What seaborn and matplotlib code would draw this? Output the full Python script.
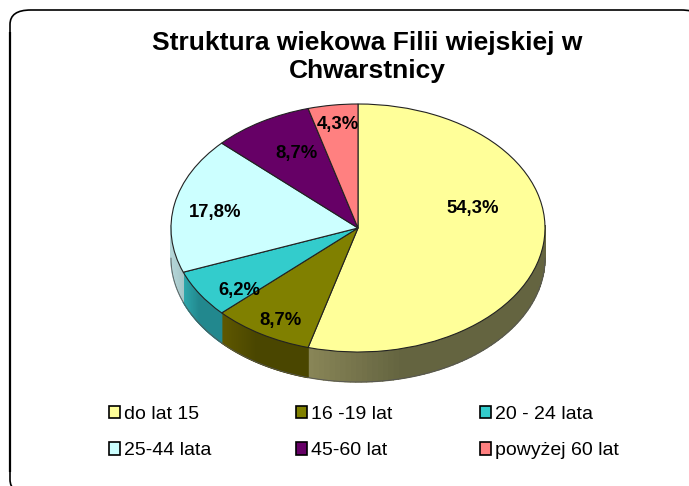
import numpy as np
import matplotlib
matplotlib.use("Agg")
import matplotlib.pyplot as plt
from matplotlib.patches import FancyBboxPatch, Patch
from matplotlib.colors import to_rgb
import seaborn as sns

categories = ["do lat 15", "16 -19 lat", "20 - 24 lata", "25-44 lata", "45-60 lat", "powyżej 60 lat"]
shares = [54.3, 8.7, 6.2, 17.8, 8.7, 4.3]
labels = ["54,3%", "8,7%", "6,2%", "17,8%", "8,7%", "4,3%"]
colors = ["#FFFF99", "#808000", "#33CCCC", "#CCFFFF", "#660066", "#FF8080"]
side_left = ["#8A8758", "#5F5800", "#2DA8AC", "#B4D6D8", "#4A004A", "#B05050"]
side_right = ["#646440", "#4A4600", "#22888E", "#9CBCBE", "#3A003A", "#904040"]
title = "Struktura wiekowa Filii wiejskiej w\nChwarstnicy"

sns.set_theme(style="white")
plt.rcParams["font.family"] = ["Liberation Sans", "DejaVu Sans"]

W, H = 689, 486
fig = plt.figure(figsize=(W / 100, H / 100), dpi=100, facecolor="white")

# rounded frame that runs off the right and bottom edges of the image
frame = FancyBboxPatch((10 / W, (H - 494) / H), 692 / W, 484 / H,
                       boxstyle="round,pad=0,rounding_size=0.03", mutation_aspect=W / H * 0.7,
                       transform=fig.transFigure, fc="white", ec="black", lw=1.2, clip_on=False,
                       zorder=-1)
fig.add_artist(frame)
fig.add_artist(plt.Line2D([10 / W, 10 / W], [1 - 32 / H, 1 - 472 / H], color="black", lw=1.6,
                          zorder=-1, solid_capstyle="butt"))

rx, ry, cx, cy, depth = 187, 124, 358, 228, 30
ax = fig.add_axes([(cx - rx) / W, (H - cy - ry - depth) / H, 2 * rx / W, (2 * ry + depth) / H])
ax.patch.set_alpha(0)
d = depth / ry

# side wall, walking the visible front half of the rim
start = 90.0
total = sum(shares)
for value, cl, cr in zip(shares, side_left, side_right):
    sweep = value / total * 360
    a = np.radians(np.linspace(start, start - sweep, 120))
    lo, hi = np.cos(a).min(), np.cos(a).max()
    for a0, a1 in zip(a[:-1], a[1:]):
        if np.sin(a0) > 0.02 and np.sin(a1) > 0.02:
            continue
        xs = [np.cos(a0), np.cos(a1), np.cos(a1), np.cos(a0)]
        ys = [np.sin(a0), np.sin(a1), np.sin(a1) - d, np.sin(a0) - d]
        t = (np.cos(a0) - lo) / max(hi - lo, 1e-6)
        t = min(t * 2.5, 1.0)
        col = (1 - t) * np.array(to_rgb(cl)) + t * np.array(to_rgb(cr))
        ax.fill(xs, ys, facecolor=col, edgecolor=col, lw=1.0, zorder=1, clip_on=False)
    start -= sweep

wedges, _ = ax.pie(shares, colors=colors, startangle=90, counterclock=False, radius=1,
                   wedgeprops=dict(edgecolor="#222222", linewidth=0.8))
for w in wedges:
    w.set_zorder(3)
ax.set_aspect("auto")
ax.set_xlim(-1, 1)
ax.set_ylim(-1 - d, 1)
ax.axis("off")

th = np.radians(np.linspace(180, 360, 200))
ax.plot(np.cos(th), np.sin(th) - d, color="#555555", lw=0.6, zorder=2, clip_on=False)

# percentage labels, placed in image pixels
label_px = [(473, 208.5), (281, 320.5), (239, 291), (215, 213), (297, 153), (338, 125)]
for text, (px, py) in zip(labels, label_px):
    fig.text(px / W, 1 - py / H, text, ha="center", va="center",
             fontsize=13.3, fontweight="bold", color="black", zorder=5)

fig.text(367 / W, 1 - 57 / H, title, ha="center", va="center", fontsize=19, fontweight="bold",
         color="black", linespacing=1.2)

# legend: three columns filled row by row
col_x = [109, 296, 480]
for j, x in enumerate(col_x):
    idx = [j, j + 3]
    handles = [Patch(facecolor=colors[i], edgecolor="black", linewidth=1.2) for i in idx]
    fig.legend(handles, [categories[i] for i in idx], loc="center left",
               bbox_to_anchor=(x / W, 1 - 432.5 / H), frameon=False, fontsize=14,
               handlelength=0.55, handleheight=0.6, handletextpad=0.2,
               labelspacing=1.02, borderpad=0, borderaxespad=0, labelcolor="black")

fig.savefig("out.png", dpi=100)
